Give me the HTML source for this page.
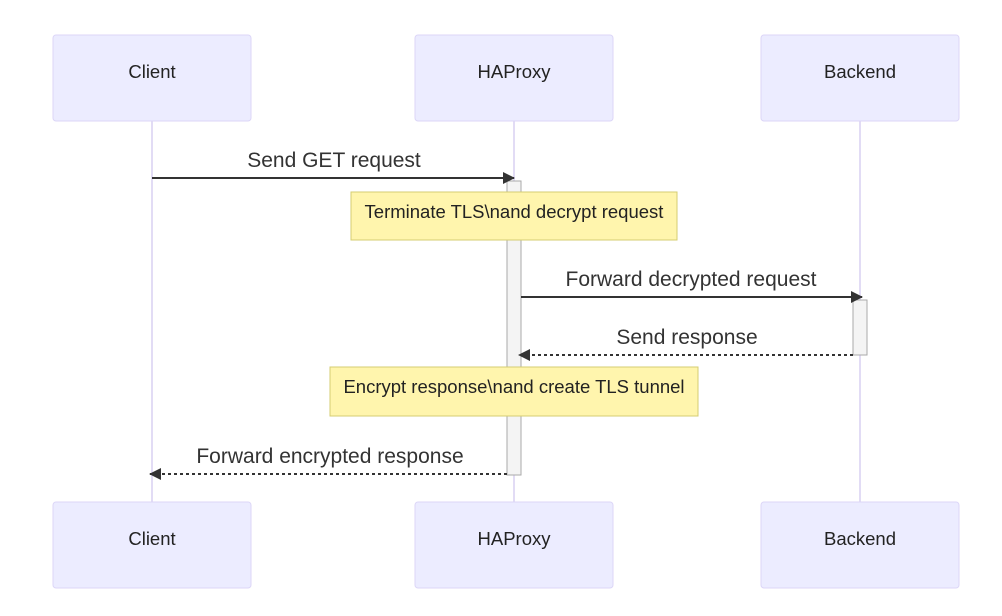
<!DOCTYPE html>
<html><head><meta charset="utf-8"><style>
html,body{margin:0;padding:0;background:#fff;}
svg{display:block;font-family:"Liberation Sans",Arial,sans-serif;}
</style></head><body>
<svg width="1002" height="616" viewBox="0 0 1002 616" xmlns="http://www.w3.org/2000/svg">
<defs>
<marker id="ah" viewBox="0 0 12 12" refX="11" refY="6" markerWidth="12" markerHeight="12" markerUnits="userSpaceOnUse" orient="auto"><path d="M0,0 L12,6 L0,12 z" fill="#333"/></marker>
</defs>
<g stroke="#d8d0f2" stroke-width="1.5">
<line x1="152" y1="121" x2="152" y2="502"/>
<line x1="514" y1="121" x2="514" y2="502"/>
<line x1="860" y1="121" x2="860" y2="502"/>
</g>
<g fill="#ececff" stroke="#dcd6f7" stroke-width="1">
<rect x="53" y="35" width="198" height="86" rx="3"/>
<rect x="415" y="35" width="198" height="86" rx="3"/>
<rect x="761" y="35" width="198" height="86" rx="3"/>
<rect x="53" y="502" width="198" height="86" rx="3"/>
<rect x="415" y="502" width="198" height="86" rx="3"/>
<rect x="761" y="502" width="198" height="86" rx="3"/>
</g>
<g font-size="18.5" fill="#222" text-anchor="middle">
<text x="152" y="78">Client</text>
<text x="514" y="78">HAProxy</text>
<text x="860" y="78">Backend</text>
<text x="152" y="545">Client</text>
<text x="514" y="545">HAProxy</text>
<text x="860" y="545">Backend</text>
</g>
<rect x="507" y="181" width="14" height="294" fill="#f4f4f4" stroke="#aaa" stroke-width="1"/>
<rect x="853" y="300" width="14" height="55" fill="#f4f4f4" stroke="#aaa" stroke-width="1"/>
<g stroke="#333" stroke-width="2" fill="none">
<line x1="152" y1="178" x2="514" y2="178" marker-end="url(#ah)"/>
<line x1="521" y1="297" x2="862" y2="297" marker-end="url(#ah)"/>
<line x1="853" y1="355" x2="519" y2="355" stroke-dasharray="3,3" marker-end="url(#ah)"/>
<line x1="507" y1="474" x2="150" y2="474" stroke-dasharray="3,3" marker-end="url(#ah)"/>
</g>
<g font-size="21" fill="#333" text-anchor="middle">
<text x="334" y="167">Send GET request</text>
<text x="691" y="286">Forward decrypted request</text>
<text x="687" y="344">Send response</text>
<text x="330" y="463">Forward encrypted response</text>
</g>
<rect x="351" y="192" width="326" height="48" fill="#fff5ad" stroke="#d4cd72" stroke-width="1"/>
<rect x="330" y="367" width="368" height="49" fill="#fff5ad" stroke="#d4cd72" stroke-width="1"/>
<g font-size="18.5" fill="#222" text-anchor="middle">
<text x="514" y="218">Terminate TLS\nand decrypt request</text>
<text x="514" y="393">Encrypt response\nand create TLS tunnel</text>
</g>
</svg>
</body></html>
